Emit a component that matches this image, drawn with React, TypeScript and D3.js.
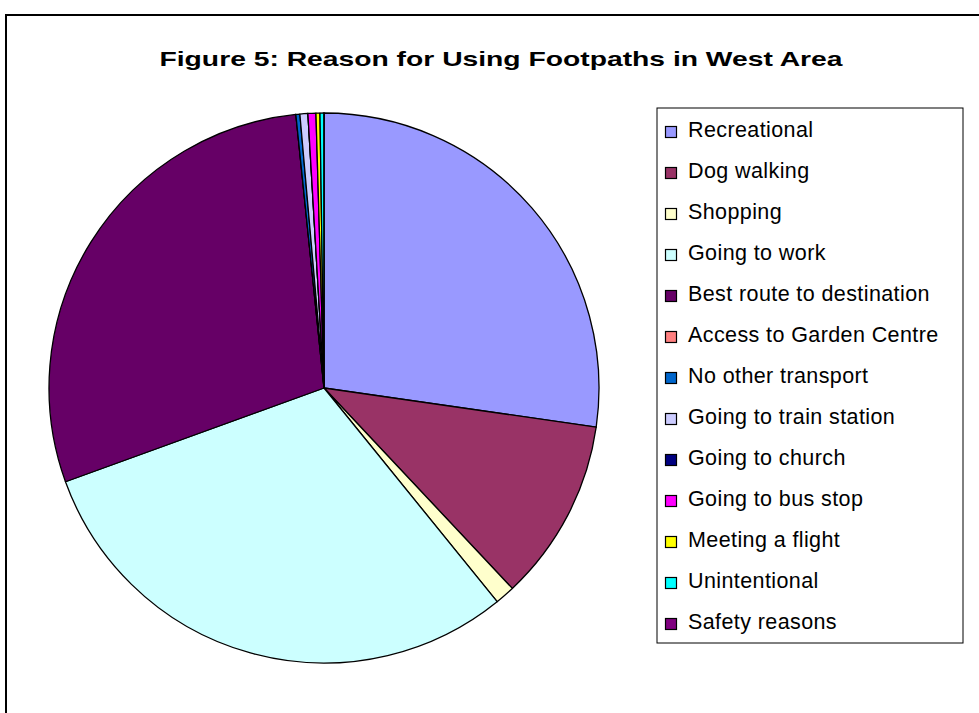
import React from "react";
import * as d3 from "d3";

const categories = [
  "Recreational",
  "Dog walking",
  "Shopping",
  "Going to work",
  "Best route to destination",
  "Access to Garden Centre",
  "No other transport",
  "Going to train station",
  "Going to church",
  "Going to bus stop",
  "Meeting a flight",
  "Unintentional",
  "Safety reasons",
];

// respondent counts
const counts = [117, 46, 5, 130, 124, 0, 1, 2, 0, 2, 1, 1, 0];

const colors = [
  "#9999FF",
  "#993366",
  "#FFFFCC",
  "#CCFFFF",
  "#660066",
  "#FF8080",
  "#0066CC",
  "#CCCCFF",
  "#000080",
  "#FF00FF",
  "#FFFF00",
  "#00FFFF",
  "#800080",
];

const title = "Figure 5: Reason for Using Footpaths in West Area";

const width = 979;
const height = 713;
const cx = 324;
const cy = 388;
const radius = 275;

type Slice = { name: string; value: number; color: string };

const App: React.FC = () => {
  const data: Slice[] = categories.map((name, i) => ({ name, value: counts[i], color: colors[i] }));

  const pie = d3
    .pie<Slice>()
    .sort(null)
    .value((d) => d.value)
    .startAngle(0)
    .endAngle(2 * Math.PI);

  const arc = d3.arc<d3.PieArcDatum<Slice>>().innerRadius(0).outerRadius(radius);

  const arcs = pie(data);

  // legend layout
  const legend = { x: 657, y: 108, w: 306, h: 535 };
  const rowY = d3.scalePoint<string>().domain(categories).range([137, 629]);

  const font = "'Liberation Sans', Arial, sans-serif";

  return (
    <svg
      width={width}
      height={height}
      style={{ position: "fixed", left: 0, top: 0, background: "#fff" }}
    >
      {/* chart area border (runs off the page on right and bottom) */}
      <rect x={6} y={15} width={1000} height={760} fill="#fff" stroke="#000" strokeWidth={2} />

      <text
        x={501}
        y={66}
        textAnchor="middle"
        fontFamily={font}
        fontWeight="bold"
        fontSize={21}
        textLength={683}
        lengthAdjust="spacingAndGlyphs"
      >
        {title}
      </text>

      <g transform={`translate(${cx},${cy})`}>
        {arcs.map((a, i) => (
          <path
            key={i}
            d={arc(a) || ""}
            fill={a.data.color}
            stroke="#000"
            strokeWidth={1.3}
            strokeLinejoin="round"
          />
        ))}
      </g>

      <rect
        x={legend.x}
        y={legend.y}
        width={legend.w}
        height={legend.h}
        fill="#fff"
        stroke="#000"
        strokeWidth={1}
      />
      {data.map((d) => {
        const y = rowY(d.name) ?? 0;
        return (
          <g key={d.name}>
            <rect
              x={665.5}
              y={y - 10.5}
              width={11}
              height={11}
              fill={d.color}
              stroke="#000"
              strokeWidth={1.2}
            />
            <text
              x={688}
              y={y}
              fontFamily={font}
              fontSize={21.5}
              letterSpacing={0.4}
              fill="#000"
            >
              {d.name}
            </text>
          </g>
        );
      })}
    </svg>
  );
};

export default App;
